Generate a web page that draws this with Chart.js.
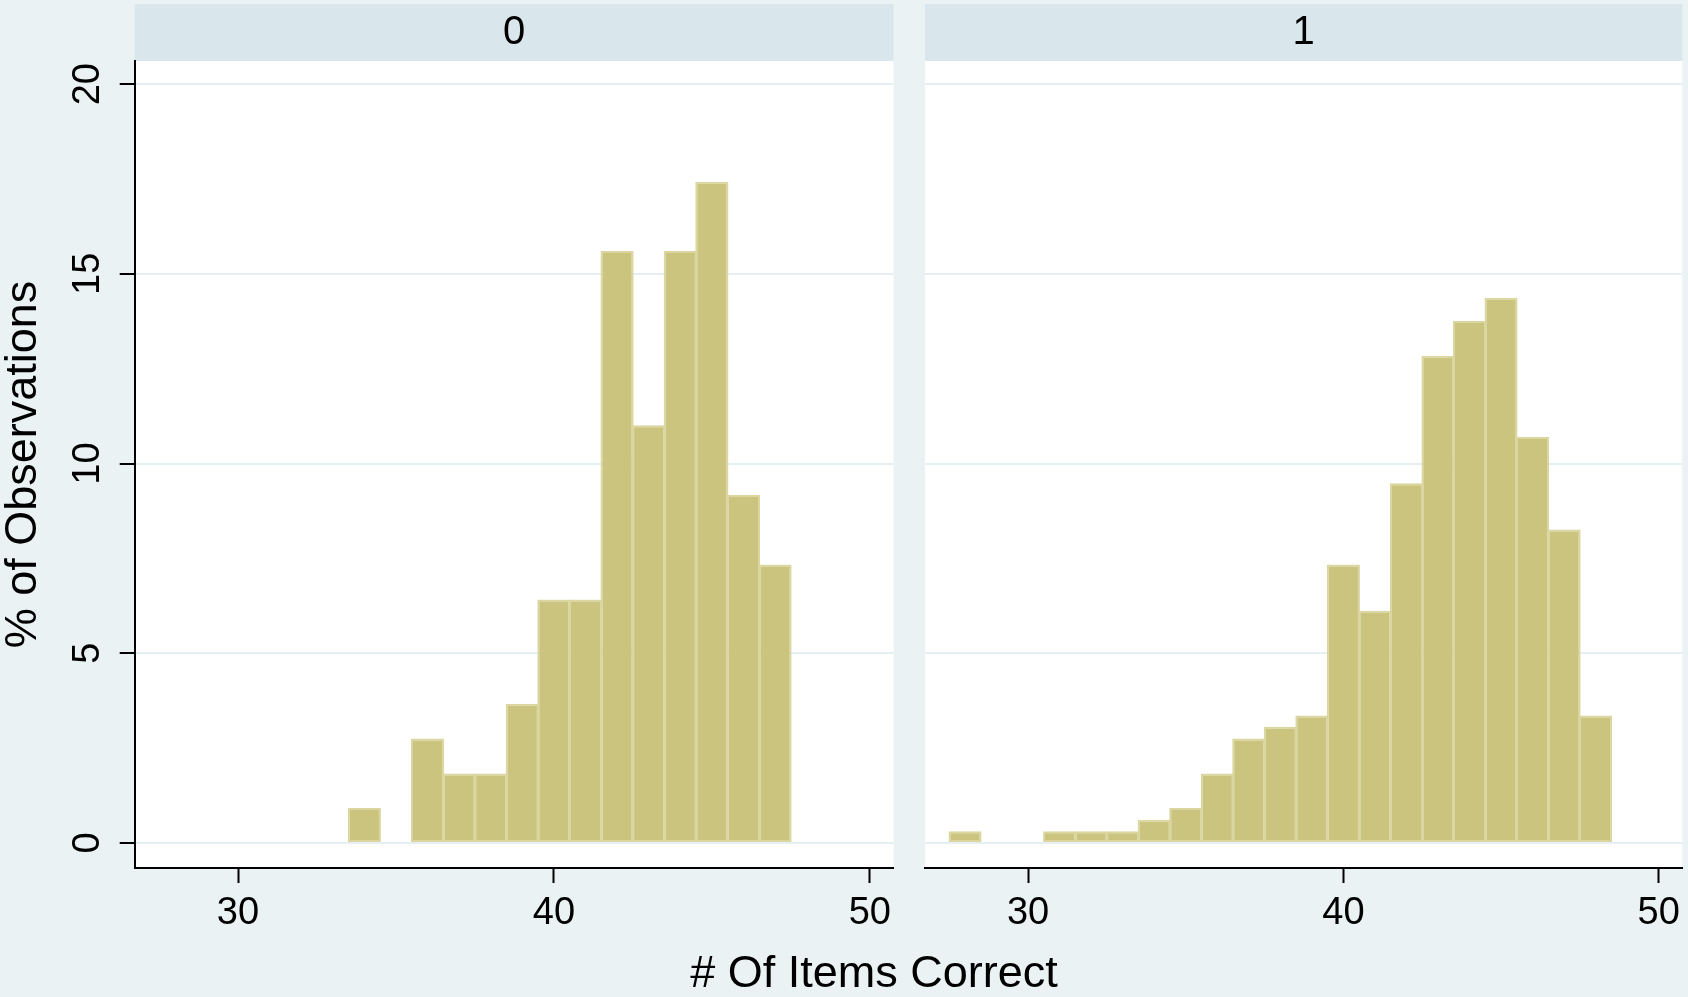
<!DOCTYPE html>
<html>
<head>
<meta charset="utf-8">
<script src="https://cdn.jsdelivr.net/npm/chart.js@4.4.0/dist/chart.umd.min.js"></script>
<style>
  body { margin: 0; background: #EAF2F3; width: 1688px; height: 997px; overflow: hidden; position: relative;
         font-family: "Liberation Sans", Arial, sans-serif; }
  canvas { position: absolute; top: 0; }
  #left { left: -3px; }
  #right { left: 900px; }
  #xtitle { position: absolute; left: 874px; top: 949px; transform: translateX(-50%);
            font-size: 45px; line-height: 45px; color: #000; white-space: nowrap; }
</style>
</head>
<body>
<canvas id="left" width="903" height="997"></canvas>
<canvas id="right" width="788" height="997"></canvas>
<div id="xtitle"># Of Items Correct</div>
<script>
// panel labels
var panelNames = ["0", "1"];

// # of items correct (bin centres) and % of observations, panel "0"
var binsLeft = [34, 36, 37, 38, 39, 40, 41, 42, 43, 44, 45, 46, 47];
var pctLeft  = [0.92, 2.75, 1.83, 1.83, 3.67, 6.42, 6.42, 15.6, 11.01, 15.6, 17.43, 9.17, 7.34];

// panel "1"
var binsRight = [28, 31, 32, 33, 34, 35, 36, 37, 38, 39, 40, 41, 42, 43, 44, 45, 46, 47, 48];
var pctRight  = [0.31, 0.31, 0.31, 0.31, 0.61, 0.92, 1.83, 2.75, 3.06, 3.36, 7.34, 6.12, 9.48, 12.84, 13.76, 14.37, 10.7, 8.26, 3.36];

// axis ticks
var xTicks = [30, 40, 50];
var yTicks = [0, 5, 10, 15, 20];

var FONT = "'Liberation Sans', Arial, sans-serif";

// white plot region + bluish strip behind the panel title
var panelBg = {
  id: 'panelBg',
  beforeDraw: function(chart) {
    var ctx = chart.ctx, a = chart.chartArea, t = chart.titleBlock;
    ctx.save();
    ctx.fillStyle = '#FFFFFF';
    ctx.fillRect(a.left, a.top, a.right - a.left, a.bottom - a.top);
    ctx.fillStyle = '#D9E6EB';
    ctx.fillRect(a.left, t.top, a.right - a.left, t.bottom - t.top);
    ctx.restore();
  }
};

function makePanel(id, name, bins, pct, first, yWidth, padRight) {
  var pts = bins.map(function(b, i) { return {x: b, y: pct[i]}; });
  return new Chart(document.getElementById(id), {
    type: 'bar',
    data: {
      datasets: [{
        data: pts,
        backgroundColor: '#CBC47F',
        borderColor: '#DBD6A0',
        borderWidth: 2,
        borderSkipped: false,
        barPercentage: 1.05,
        categoryPercentage: 1
      }]
    },
    options: {
      responsive: false,
      animation: false,
      devicePixelRatio: 1,
      layout: { padding: { top: 4, right: padRight, bottom: 0, left: 0 } },
      plugins: {
        legend: { display: false },
        tooltip: { enabled: false },
        title: {
          display: true,
          text: name,
          fullSize: false,
          color: '#000',
          font: { size: 40, family: FONT, weight: 'normal' },
          padding: { top: 4.5, bottom: 4.5 }
        }
      },
      scales: {
        x: {
          type: 'linear',
          min: 26.73, max: 50.75,
          offset: false,
          afterFit: function(s) { s.height = 129; },
          afterBuildTicks: function(s) { s.ticks = xTicks.map(function(v) { return {value: v}; }); },
          ticks: { color: '#000', maxRotation: 0, padding: 8, font: { size: 38, family: FONT } },
          grid: { offset: false, drawOnChartArea: false, tickLength: 15, tickColor: '#000', tickWidth: 2 },
          border: { display: true, color: '#000', width: 2 }
        },
        y: {
          min: -0.66, max: 20.61,
          afterFit: function(s) { s.width = yWidth; },
          afterBuildTicks: function(s) { s.ticks = yTicks.map(function(v) { return {value: v}; }); },
          ticks: { display: first, color: '#000', minRotation: 90, maxRotation: 90, crossAlign: 'center',
                   padding: 10, font: { size: 38, family: FONT } },
          grid: { color: '#E6EFF1', lineWidth: 2, drawTicks: first, tickLength: 15, tickColor: '#000', tickWidth: 2 },
          border: { display: first, color: '#000', width: 2 },
          title: { display: first, text: '% of Observations', color: '#000', padding: 0,
                   font: { size: 45, family: FONT } }
        }
      }
    },
    plugins: [panelBg]
  });
}

makePanel('left', panelNames[0], binsLeft, pctLeft, true, 137.7, 6.5);
makePanel('right', panelNames[1], binsRight, pctRight, false, 25, 3.3);
</script>
</body>
</html>
